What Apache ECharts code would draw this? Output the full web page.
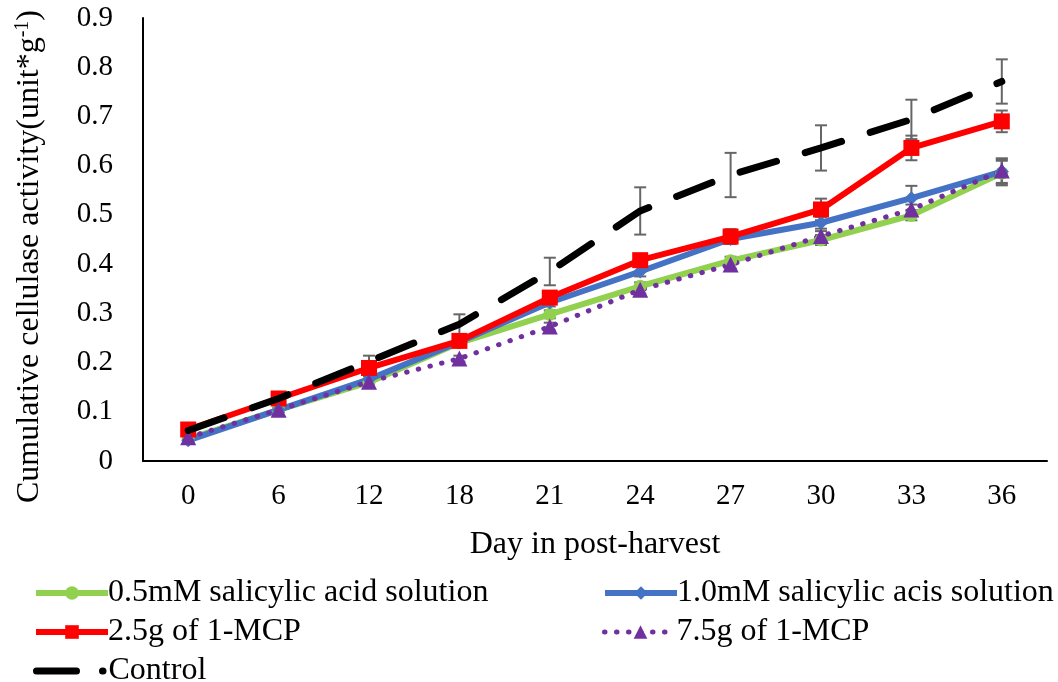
<!DOCTYPE html>
<html>
<head>
<meta charset="utf-8">
<script src="https://cdn.jsdelivr.net/npm/echarts@6/dist/echarts.min.js"></script>
<style>
    html, body { margin: 0; padding: 0; background: #fff; }
    #main { width: 1058px; height: 682px; }
</style>
</head>
<body>
<div id="main"></div>
<script>
var days = ['0', '6', '12', '18', '21', '24', '27', '30', '33', '36'];
var yTicks = [0, 0.1, 0.2, 0.3, 0.4, 0.5, 0.6, 0.7, 0.8, 0.9];

var names = ['0.5mM salicylic acid solution', '1.0mM salicylic acis solution', '2.5g of 1-MCP', '7.5g of 1-MCP', 'Control'];

var sa05 = [0.045, 0.104, 0.160, 0.240, 0.298, 0.355, 0.407, 0.449, 0.499, 0.585];
var sa10 = [0.042, 0.104, 0.166, 0.242, 0.322, 0.385, 0.451, 0.484, 0.534, 0.588];
var mcp25 = [0.064, 0.127, 0.189, 0.244, 0.332, 0.408, 0.456, 0.511, 0.636, 0.690];
var mcp75 = [0.048, 0.104, 0.161, 0.208, 0.273, 0.348, 0.399, 0.457, 0.511, 0.590];
var control = [0.062, 0.127, 0.202, 0.278, 0.385, 0.508, 0.581, 0.636, 0.694, 0.771];

// half length of each error bar
var sa05Err = [0.003, 0.004, 0.005, 0.006, 0.008, 0.008, 0.008, 0.010, 0.010, 0.025];
var sa10Err = [0.003, 0.004, 0.006, 0.006, 0.008, 0.010, 0.010, 0.012, 0.025, 0.025];
var mcp25Err = [0.003, 0.005, 0.008, 0.010, 0.010, 0.010, 0.015, 0.022, 0.025, 0.022];
var mcp75Err = [0.003, 0.004, 0.005, 0.006, 0.008, 0.008, 0.008, 0.010, 0.010, 0.025];
var controlErr = [0.003, 0.005, 0.012, 0.020, 0.028, 0.048, 0.045, 0.046, 0.040, 0.045];

var font = '"Liberation Serif", "Times New Roman", serif';

function errData(vals, errs) {
    return vals.map(function (v, i) { return [i, v - errs[i], v + errs[i]]; });
}

function errSeries(vals, errs) {
    return {
        type: 'custom',
        z: 1,
        silent: true,
        data: errData(vals, errs),
        renderItem: function (params, api) {
            var lo = api.coord([api.value(0), api.value(1)]);
            var hi = api.coord([api.value(0), api.value(2)]);
            var w = 6;
            var st = { stroke: '#666666', lineWidth: 2 };
            return {
                type: 'group',
                children: [
                    { type: 'line', shape: { x1: lo[0], y1: lo[1], x2: hi[0], y2: hi[1] }, style: st },
                    { type: 'line', shape: { x1: lo[0] - w, y1: lo[1], x2: lo[0] + w, y2: lo[1] }, style: st },
                    { type: 'line', shape: { x1: hi[0] - w, y1: hi[1], x2: hi[0] + w, y2: hi[1] }, style: st }
                ]
            };
        }
    };
}

function legendAt(item, left, top, lineStyle) {
    return {
        data: [item],
        left: left,
        top: top,
        itemWidth: 72,
        itemHeight: 17,
        itemGap: 0,
        selectedMode: false,
        lineStyle: lineStyle || { width: 6 },
        textStyle: { fontFamily: font, fontSize: 32, color: '#000', padding: [0, 0, 0, -5] }
    };
}

var option = {
    animation: false,
    backgroundColor: '#fff',
    grid: { left: 143, right: 11, top: 18, bottom: 221 },
    legend: [
        legendAt(names[0], 28, 572),
        legendAt(names[1], 597, 572),
        legendAt(names[2], 28, 611),
        legendAt(names[3], 597, 611, { width: 5 }),
        legendAt({ name: names[4], itemStyle: { color: 'rgba(0,0,0,0)', borderWidth: 0 } }, 28, 650,
            { type: [40, 26, 0.5, 100], cap: 'round', width: 7 })
    ],
    xAxis: {
        type: 'category',
        data: days,
        boundaryGap: true,
        axisLine: { lineStyle: { color: '#000', width: 2 } },
        axisTick: { show: false },
        axisLabel: { fontFamily: font, fontSize: 29, color: '#000', margin: 21 },
        name: 'Day in post-harvest',
        nameLocation: 'middle',
        nameGap: 68,
        nameTextStyle: { fontFamily: font, fontSize: 32, color: '#000' }
    },
    yAxis: {
        type: 'value',
        min: yTicks[0],
        max: yTicks[yTicks.length - 1],
        interval: 0.1,
        axisLine: { show: true, lineStyle: { color: '#000', width: 2 } },
        axisTick: { show: false },
        splitLine: { show: false },
        axisLabel: {
            fontFamily: font, fontSize: 29, color: '#000', margin: 30,
            formatter: function (v) { return v === 0 ? '0' : v.toFixed(1); }
        },
        name: '{a|Cumulative cellulase activity(unit*g}{s|-1}{a|)}',
        nameLocation: 'middle',
        nameGap: 96,
        nameTextStyle: {
            padding: [0, 34, 0, 0],
            rich: {
                a: { fontFamily: font, fontSize: 32, color: '#000' },
                s: { fontFamily: font, fontSize: 20, color: '#000', padding: [0, 0, 14, 0] }
            }
        }
    },
    series: [
        errSeries(sa05, sa05Err),
        errSeries(sa10, sa10Err),
        errSeries(mcp25, mcp25Err),
        errSeries(mcp75, mcp75Err),
        errSeries(control, controlErr),
        {
            name: names[0], type: 'line', data: sa05, z: 3,
            symbol: 'circle', symbolSize: 13,
            itemStyle: { color: '#92D050' },
            lineStyle: { color: '#92D050', width: 6 }
        },
        {
            name: names[1], type: 'line', data: sa10, z: 3,
            symbol: 'diamond', symbolSize: 14,
            itemStyle: { color: '#4472C4' },
            lineStyle: { color: '#4472C4', width: 6 }
        },
        {
            name: names[2], type: 'line', data: mcp25, z: 3,
            symbol: 'rect', symbolSize: 16,
            itemStyle: { color: '#FF0000' },
            lineStyle: { color: '#FF0000', width: 6 }
        },
        {
            name: names[3], type: 'line', data: mcp75, z: 3,
            symbol: 'triangle', symbolSize: 16,
            itemStyle: { color: '#7030A0' },
            lineStyle: { color: '#7030A0', width: 5, type: [0.5, 11.5], cap: 'round' }
        },
        {
            name: names[4], type: 'line', data: control, z: 4,
            symbol: 'none',
            itemStyle: { color: '#000' },
            lineStyle: { color: '#000', width: 7, type: [38, 30], cap: 'round' }
        }
    ]
};

var myChart = echarts.init(document.getElementById('main'));
myChart.setOption(option);
</script>
</body>
</html>
